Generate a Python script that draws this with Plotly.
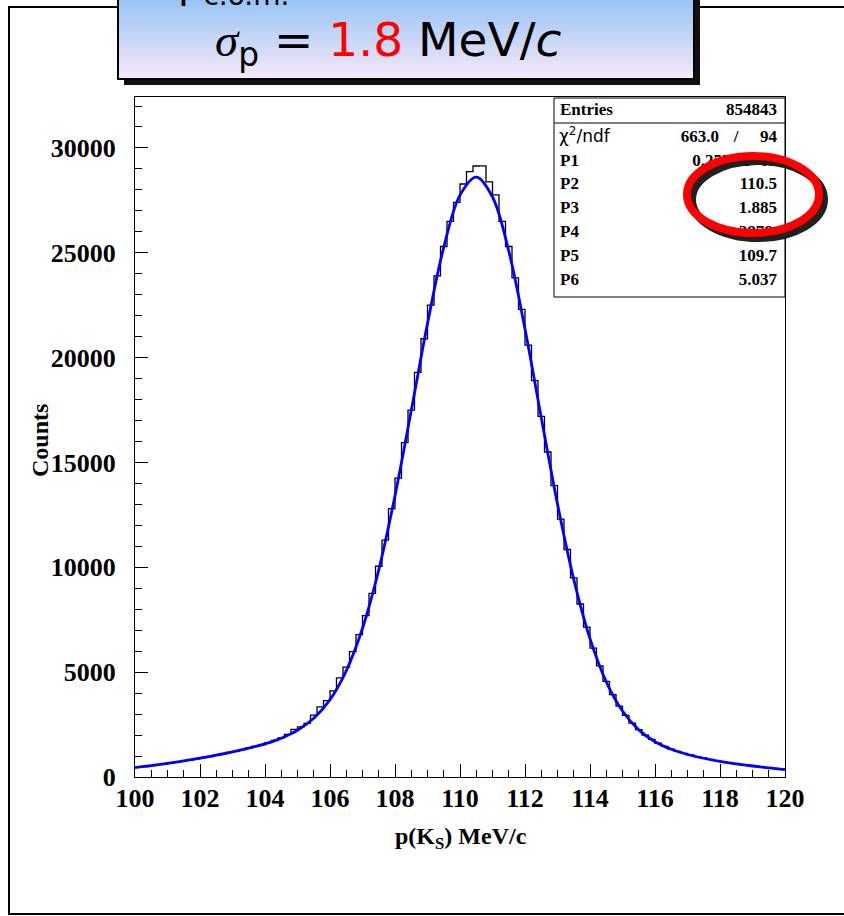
import plotly.graph_objects as go

# ---------------- data ----------------
bin_lo = 100.0
bin_width = 0.2
counts = [
    470, 500, 545, 590, 620, 675, 715, 770, 810, 870,
    925, 975, 1040, 1090, 1170, 1225, 1310, 1370, 1460, 1530,
    1640, 1740, 1870, 2030, 2270, 2390, 2560, 2950, 3340, 3640,
    4110, 4730, 5240, 5980, 6790, 7700, 8760, 10050, 11300, 12800,
    14250, 15950, 17500, 19300, 20900, 22500, 23900, 25300, 26500, 27400,
    28280, 28870, 29140, 29150, 28380, 27760, 26500, 25300, 23800, 22300,
    20600, 18900, 17200, 15500, 13900, 12300, 10850, 9500, 8250, 7150,
    6150, 5300, 4560, 3930, 3380, 2940, 2570, 2260, 2000, 1790,
    1610, 1460, 1330, 1220, 1130, 1050, 970, 905, 840, 785,
    735, 680, 635, 590, 550, 510, 470, 440, 410, 375,
]
fit_x = [100.0, 100.5, 101.0, 101.5, 102.0, 102.5, 103.0, 103.5, 104.0, 104.5,
         105.0, 105.5, 106.0, 106.5, 107.0, 107.5, 108.0, 108.5, 109.0, 109.5,
         110.0, 110.5, 111.0, 111.5, 112.0, 112.5, 113.0, 113.5, 114.0, 114.5,
         115.0, 115.5, 116.0, 116.5, 117.0, 117.5, 118.0, 118.5, 119.0, 119.5, 120.0]
fit_y = [451, 543, 647, 765, 895, 1039, 1197, 1375, 1584, 1852,
         2227, 2798, 3689, 5064, 7091, 9878, 13414, 17476, 21626, 25262,
         27751, 28612, 27662, 25086, 21369, 17145, 13017, 9427, 6597, 4540,
         3147, 2248, 1681, 1320, 1074, 894, 750, 629, 525, 434, 356]

stat_labels = ["Entries", "\u03c7<sup>2</sup>/ndf", "P1", "P2", "P3", "P4", "P5", "P6"]
stat_values = ["854843", "94", "0.2577E+05", "110.5", "1.885", "2878.", "109.7", "5.037"]
chi2_value = "663.0"

x_title = "p(K<sub>S</sub>) MeV/c"
y_title = "Counts"

# ---------------- layout geometry ----------------
W, H = 844, 916
L, R, T, B = 135, 59, 97, 139
PW = W - L - R
PH = H - T - B


def px(x):
    return (x - L) / PW


def py(y):
    return (H - B - y) / PH


edges = [bin_lo + bin_width * i for i in range(len(counts) + 1)]
steps = counts + [counts[-1]]

fig = go.Figure()
fig.add_trace(go.Scatter(x=edges, y=steps, mode="lines", line_shape="hv",
                         line=dict(color="black", width=1.3), hoverinfo="skip",
                         showlegend=False))
fig.add_trace(go.Scatter(x=fit_x, y=fit_y, mode="lines", line_shape="spline",
                         line=dict(color="#0000ff", width=2.8), hoverinfo="skip",
                         showlegend=False))

# stats box text (as traces so the ellipse shape can cover it)
row_y = [111, 138, 162, 185, 209, 233, 257, 281]
bold_idx = [0, 2, 3, 4, 5, 6, 7]
sfont = dict(family="Liberation Serif", size=17, color="black", weight=700)
fig.add_trace(go.Scatter(x=[px(560)] * len(bold_idx), y=[py(row_y[i]) for i in bold_idx],
                         xaxis="x2", yaxis="y2", mode="text",
                         text=[stat_labels[i] for i in bold_idx],
                         textposition="middle right", cliponaxis=False, textfont=sfont,
                         hoverinfo="skip", showlegend=False))
fig.add_trace(go.Scatter(x=[px(559)], y=[py(row_y[1])],
                         xaxis="x2", yaxis="y2", mode="text", text=[stat_labels[1]],
                         textposition="middle right", cliponaxis=False,
                         textfont=dict(family="DejaVu Sans", size=17, color="black"),
                         hoverinfo="skip", showlegend=False))
fig.add_trace(go.Scatter(x=[px(777)] * len(stat_values), y=[py(v) for v in row_y],
                         xaxis="x2", yaxis="y2", mode="text", text=stat_values,
                         textposition="middle left", cliponaxis=False, textfont=sfont,
                         hoverinfo="skip", showlegend=False))
fig.add_trace(go.Scatter(x=[px(719), px(736)], y=[py(row_y[1])] * 2,
                         xaxis="x2", yaxis="y2", mode="text", text=[chi2_value, "/"],
                         textposition=["middle left", "middle center"], cliponaxis=False,
                         textfont=sfont, hoverinfo="skip", showlegend=False))

shapes = []
# outer frame
shapes.append(dict(type="rect", xref="paper", yref="paper", x0=px(9), x1=px(860),
                   y0=py(914), y1=py(7), line=dict(color="black", width=2),
                   fillcolor="rgba(0,0,0,0)", layer="above"))
# stats box
shapes.append(dict(type="rect", xref="paper", yref="paper", x0=px(554), x1=px(785),
                   y0=py(297), y1=py(98), line=dict(color="black", width=1),
                   fillcolor="white", layer="below"))
shapes.append(dict(type="line", xref="paper", yref="paper", x0=px(554), x1=px(785),
                   y0=py(123), y1=py(123), line=dict(color="black", width=1), layer="above"))
# red ellipse with shadow
cx0, cx1, cy0, cy1 = 687, 819, 156, 233
shapes.append(dict(type="circle", xref="paper", yref="paper",
                   x0=px(cx0 + 5), x1=px(cx1 + 5), y0=py(cy1 + 5), y1=py(cy0 + 5),
                   line=dict(color="#202020", width=8), layer="above"))
shapes.append(dict(type="circle", xref="paper", yref="paper",
                   x0=px(cx0), x1=px(cx1), y0=py(cy1), y1=py(cy0),
                   line=dict(color="#ff0000", width=8), layer="above"))
# title box: shadow, gradient strips, border
bx0, bx1, by0, by1 = 118, 694, -12, 79
shapes.append(dict(type="rect", xref="paper", yref="paper", x0=px(bx0 + 6), x1=px(bx1 + 6),
                   y0=py(by1 + 6), y1=py(by0), line=dict(width=0), fillcolor="#111111",
                   layer="above"))
top_c = (138, 192, 246)
bot_c = (247, 232, 248)
n = 46
for i in range(n):
    t = i / (n - 1)
    c = tuple(int(round(top_c[k] + (bot_c[k] - top_c[k]) * t)) for k in range(3))
    ya = by0 + (by1 - by0) * i / n
    yb = by0 + (by1 - by0) * (i + 1) / n
    shapes.append(dict(type="rect", xref="paper", yref="paper", x0=px(bx0), x1=px(bx1),
                       y0=py(min(yb + 2.0, by1)), y1=py(ya), line=dict(width=0),
                       fillcolor="rgb(%d,%d,%d)" % c, layer="above"))
shapes.append(dict(type="rect", xref="paper", yref="paper", x0=px(bx0), x1=px(bx1),
                   y0=py(by1), y1=py(by0), line=dict(color="black", width=2),
                   fillcolor="rgba(0,0,0,0)", layer="above"))

annotations = [
    dict(text="<span style='font-family:Liberation Serif'><i>\u03c3</i></span><sub>p</sub> = "
              "<span style='color:#ff0000'>1.8</span> MeV/<i>c</i>",
         x=px(388), y=py(43), xref="paper", yref="paper", showarrow=False,
         xanchor="center", yanchor="middle",
         font=dict(family="DejaVu Sans", size=47, color="black")),
    dict(text="p<sub>c.o.m.</sub>", x=px(176), y=py(14), xref="paper", yref="paper",
         showarrow=False, xanchor="left", yanchor="bottom",
         font=dict(family="DejaVu Sans", size=40, color="black")),
    dict(text="<b>" + x_title + "</b>", x=px(461), y=py(838), xref="paper", yref="paper",
         showarrow=False, xanchor="center", yanchor="middle",
         font=dict(family="Liberation Serif", size=24, color="black")),
    dict(text="<b>" + y_title + "</b>", x=px(40), y=py(441), xref="paper", yref="paper",
         showarrow=False, xanchor="center", yanchor="middle", textangle=-90,
         font=dict(family="Liberation Serif", size=24, color="black")),
]

tick_font = dict(family="Liberation Serif", size=26, color="black", weight=700)
fig.update_layout(
    width=W, height=H, margin=dict(l=L, r=R, t=T, b=B, autoexpand=False),
    paper_bgcolor="white", plot_bgcolor="white",
    shapes=shapes, annotations=annotations, showlegend=False,
    xaxis=dict(range=[100, 120], tick0=100, dtick=2, ticks="inside", ticklen=13,
               tickwidth=1, tickcolor="black", showline=True, linecolor="black",
               linewidth=1, mirror=True, showgrid=False, zeroline=False,
               tickfont=tick_font, ticklabelstandoff=-2, tickformat="d",
               minor=dict(dtick=0.5, ticks="inside", ticklen=7, tickcolor="black",
                          showgrid=False)),
    yaxis=dict(range=[0, 32430], tick0=0, dtick=5000, ticks="inside", ticklen=13,
               tickwidth=1, tickcolor="black", showline=True, linecolor="black",
               linewidth=1, mirror=True, showgrid=False, zeroline=False,
               tickfont=tick_font, ticklabelstandoff=13, tickformat="d",
               minor=dict(dtick=1000, ticks="inside", ticklen=7, tickcolor="black",
                          showgrid=False)),
    xaxis2=dict(overlaying="x", range=[0, 1], visible=False, fixedrange=True),
    yaxis2=dict(overlaying="y", range=[0, 1], visible=False, fixedrange=True),
)

fig.write_html("out.html")
